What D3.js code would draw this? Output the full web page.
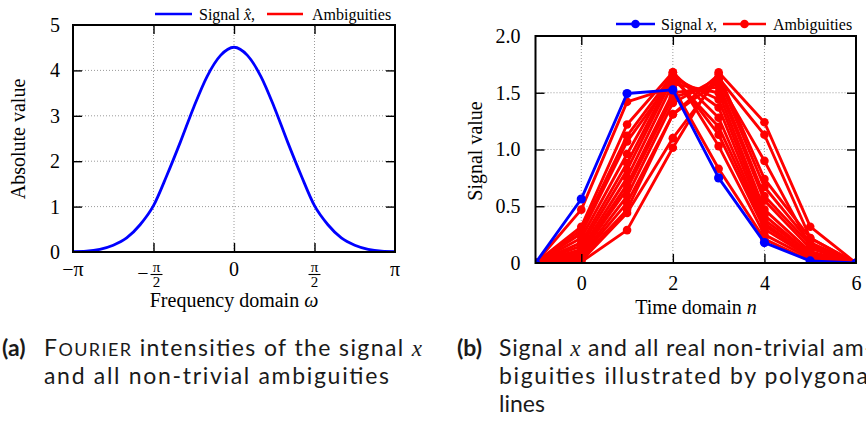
<!DOCTYPE html>
<html>
<head>
<meta charset="utf-8">
<script src="https://cdn.jsdelivr.net/npm/d3@7/dist/d3.min.js"></script>
<style>
html,body{margin:0;padding:0;background:#fff;}
svg{display:block;}
</style>
</head>
<body>
<svg id="chart" width="866" height="421"></svg>
<script>
// ---------------- data ----------------
// (a) Fourier intensities |x^(ω)| sampled every π/12
const freqOmega = [-3.1416, -2.8798, -2.6180, -2.3562, -2.0944, -1.8326, -1.5708, -1.3090, -1.0472, -0.7854, -0.5236, -0.2618, 0,
                   0.2618, 0.5236, 0.7854, 1.0472, 1.3090, 1.5708, 1.8326, 2.0944, 2.3562, 2.6180, 2.8798, 3.1416];
const absValues = [0.01, 0.02, 0.06, 0.15, 0.31, 0.60, 1.02, 1.69, 2.42, 3.19, 3.87, 4.33, 4.51,
                   4.33, 3.87, 3.19, 2.42, 1.69, 1.02, 0.60, 0.31, 0.15, 0.06, 0.02, 0.01];
const freqTickValues = [-Math.PI, -Math.PI / 2, 0, Math.PI / 2, Math.PI];
const freqTickLabels = ["−π", "−π/2", "0", "π/2", "π"];
const absTickValues = [0, 1, 2, 3, 4, 5];

// (b) signal and ambiguities in the time domain
const timeIndex = [-1, 0, 1, 2, 3, 4, 5, 6];
const signalX = [0, 0.564, 1.493, 1.525, 0.75, 0.18, 0.018, 0];
const ambiguities = [
  [0, 0.47, 1.42, 1.55, 0.83, 0.21, 0.02, 0],
  [0, 0.32, 1.22, 1.68, 1.03, 0.25, 0.04, 0],
  [0, 0.29, 1.12, 1.66, 1.13, 0.30, 0.05, 0],
  [0, 0.26, 1.07, 1.63, 1.20, 0.33, 0.06, 0],
  [0, 0.22, 0.96, 1.68, 1.28, 0.35, 0.06, 0],
  [0, 0.18, 0.88, 1.66, 1.37, 0.38, 0.08, 0],
  [0, 0.15, 0.82, 1.63, 1.44, 0.42, 0.08, 0],
  [0, 0.12, 0.75, 1.58, 1.50, 0.47, 0.10, 0],
  [0, 0.10, 0.69, 1.50, 1.55, 0.55, 0.13, 0],
  [0, 0.08, 0.65, 1.46, 1.58, 0.59, 0.16, 0],
  [0, 0.06, 0.59, 1.41, 1.63, 0.67, 0.18, 0],
  [0, 0.05, 0.53, 1.31, 1.66, 0.74, 0.22, 0],
  [0, 0.04, 0.47, 1.31, 1.60, 0.90, 0.15, 0],
  [0, 0.02, 0.44, 1.10, 1.63, 1.13, 0.22, 0],
  [0, 0.01, 0.29, 1.015, 1.68, 1.24, 0.32, 0]
];
const timeTickValues = [0, 2, 4, 6];
const valueTickValues = [0, 0.5, 1.0, 1.5, 2.0];
const valueTickLabels = ["0", "0.5", "1.0", "1.5", "2.0"];

// ---------------- drawing ----------------
const BLUE = "#0000ff", RED = "#ff0000";
const SERIF = "'Liberation Serif', 'DejaVu Serif', serif";
const SANS = "Lato, 'Open Sans', sans-serif";
const svg = d3.select("#chart");

function grid(g, x, y, xt, yt) {
  const [x0, x1] = x.range(), [y0, y1] = y.range();
  g.append("g").selectAll("line").data(xt).join("line")
    .attr("x1", d => x(d)).attr("x2", d => x(d)).attr("y1", y0).attr("y2", y1)
    .attr("stroke", "#9a9a9a").attr("stroke-width", 1).attr("stroke-dasharray", "1,2");
  g.append("g").selectAll("line").data(yt).join("line")
    .attr("y1", d => y(d)).attr("y2", d => y(d)).attr("x1", x0).attr("x2", x1)
    .attr("stroke", "#9a9a9a").attr("stroke-width", 1).attr("stroke-dasharray", "1,2");
}

function frame(g, x, y, xt, yt) {
  const [x0, x1] = x.range(), [y0, y1] = y.range();
  const style = s => s.call(a => a.select(".domain").remove())
    .call(a => a.selectAll(".tick line").attr("stroke", "#000").attr("stroke-width", 1.4));
  g.append("g").attr("transform", `translate(0,${y0})`)
    .call(d3.axisBottom(x).tickValues(xt).tickSizeInner(-9).tickSizeOuter(0).tickFormat("")).call(style);
  g.append("g").attr("transform", `translate(0,${y1})`)
    .call(d3.axisTop(x).tickValues(xt).tickSizeInner(-9).tickSizeOuter(0).tickFormat("")).call(style);
  g.append("g").attr("transform", `translate(${x0},0)`)
    .call(d3.axisLeft(y).tickValues(yt).tickSizeInner(-9).tickSizeOuter(0).tickFormat("")).call(style);
  g.append("g").attr("transform", `translate(${x1},0)`)
    .call(d3.axisRight(y).tickValues(yt).tickSizeInner(-9).tickSizeOuter(0).tickFormat("")).call(style);
  g.append("rect").attr("x", x0).attr("y", y1).attr("width", x1 - x0).attr("height", y0 - y1)
    .attr("fill", "none").attr("stroke", "#000").attr("stroke-width", 2);
}

// ======== Panel (a) ========
const xL = d3.scaleLinear().domain([-Math.PI, Math.PI]).range([73, 395]);
const yL = d3.scaleLinear().domain([0, 5]).range([252, 25]);
const gA = svg.append("g");
grid(gA, xL, yL, freqTickValues.slice(1, -1), absTickValues.slice(1, -1));

svg.append("clipPath").attr("id", "clipA").append("rect")
  .attr("x", 73).attr("y", 25).attr("width", 322).attr("height", 227);
gA.append("path")
  .datum(freqOmega.map((w, i) => [w, absValues[i]]))
  .attr("clip-path", "url(#clipA)")
  .attr("fill", "none").attr("stroke", BLUE).attr("stroke-width", 2.8)
  .attr("d", d3.line().x(d => xL(d[0])).y(d => yL(d[1])).curve(d3.curveMonotoneX));

frame(gA, xL, yL, freqTickValues.slice(1, -1), absTickValues.slice(1, -1));

// y tick labels
gA.append("g").attr("transform", `translate(${xL.range()[0]},0)`)
  .call(d3.axisLeft(yL).tickValues(absTickValues).tickSize(0).tickPadding(13).tickFormat(d3.format("d")))
  .call(a => a.select(".domain").remove())
  .call(a => a.selectAll("text").attr("font-family", SERIF).attr("font-size", 20).attr("fill", "#000"));

// x tick labels (with fractions)
const xlab = gA.append("g").attr("font-family", SERIF).attr("fill", "#000");
freqTickValues.forEach((v, i) => {
  const lab = freqTickLabels[i];
  const cx = xL(v);
  if (lab.includes("/")) {
    const neg = lab.startsWith("−");
    const [num, den] = lab.replace("−", "").split("/");
    const fx = cx + (neg ? 3 : 0);
    if (neg) xlab.append("text").attr("x", fx - 8).attr("y", 280).attr("text-anchor", "end")
      .attr("font-size", 20).text("−");
    xlab.append("text").attr("x", fx).attr("y", 271.5).attr("text-anchor", "middle").attr("font-size", 15).text(num);
    xlab.append("line").attr("x1", fx - 6).attr("x2", fx + 6).attr("y1", 274.5).attr("y2", 274.5)
      .attr("stroke", "#000").attr("stroke-width", 1.1);
    xlab.append("text").attr("x", fx).attr("y", 287).attr("text-anchor", "middle").attr("font-size", 15).text(den);
  } else {
    xlab.append("text").attr("x", cx).attr("y", 276).attr("text-anchor", "middle").attr("font-size", 20).text(lab);
  }
});

// axis titles
gA.append("text").attr("x", 234).attr("y", 307).attr("text-anchor", "middle")
  .attr("font-family", SERIF).attr("font-size", 20)
  .call(t => { t.append("tspan").text("Frequency domain "); t.append("tspan").attr("font-style", "italic").text("ω"); });
gA.append("text").attr("transform", "translate(25,139) rotate(-90)").attr("text-anchor", "middle")
  .attr("font-family", SERIF).attr("font-size", 20).text("Absolute value");

// legend (a)
const legA = gA.append("g").attr("font-family", SERIF).attr("font-size", 16);
legA.append("line").attr("x1", 155).attr("x2", 192).attr("y1", 14).attr("y2", 14).attr("stroke", BLUE).attr("stroke-width", 2.6);
legA.append("text").attr("x", 199).attr("y", 19.5)
  .call(t => { t.append("tspan").text("Signal "); t.append("tspan").attr("font-style", "italic").text("x\u0302"); t.append("tspan").text(","); });
legA.append("line").attr("x1", 267).attr("x2", 303).attr("y1", 14).attr("y2", 14).attr("stroke", RED).attr("stroke-width", 2.6);
legA.append("text").attr("x", 312).attr("y", 19.5).text("Ambiguities");

// ======== Panel (b) ========
const xR = d3.scaleLinear().domain([-1, 6]).range([535.5, 856]);
const yR = d3.scaleLinear().domain([0, 2]).range([263, 36]);
const gB = svg.append("g");
grid(gB, xR, yR, [0, 2, 4], [0.5, 1.0, 1.5]);

svg.append("clipPath").attr("id", "clipB").append("rect")
  .attr("x", 535.5).attr("y", 36).attr("width", 320.5).attr("height", 227);
const lineB = d3.line().x((d, i) => xR(timeIndex[i])).y(d => yR(d));
const dataB = gB.append("g").attr("clip-path", "url(#clipB)");

ambiguities.forEach(a => {
  dataB.append("path").datum(a).attr("fill", "none").attr("stroke", RED)
    .attr("stroke-width", 2.9).attr("stroke-linejoin", "round").attr("d", lineB);
});
ambiguities.forEach(a => {
  dataB.append("g").selectAll("circle").data(a).join("circle")
    .attr("cx", (d, i) => xR(timeIndex[i])).attr("cy", d => yR(d)).attr("r", 4.3).attr("fill", RED);
});
dataB.append("path").datum(signalX).attr("fill", "none").attr("stroke", BLUE)
  .attr("stroke-width", 2.9).attr("stroke-linejoin", "round").attr("d", lineB);
dataB.append("g").selectAll("circle").data(signalX).join("circle")
  .attr("cx", (d, i) => xR(timeIndex[i])).attr("cy", d => yR(d)).attr("r", 4.6).attr("fill", BLUE);

frame(gB, xR, yR, [0, 2, 4], [0.5, 1.0, 1.5]);

gB.append("g").attr("transform", `translate(${xR.range()[0]},0)`)
  .call(d3.axisLeft(yR).tickValues(valueTickValues).tickSize(0).tickPadding(15)
    .tickFormat((d, i) => valueTickLabels[i]))
  .call(a => a.select(".domain").remove())
  .call(a => a.selectAll("text").attr("font-family", SERIF).attr("font-size", 20).attr("fill", "#000"));
gB.append("g").attr("transform", `translate(0,${yR.range()[0]})`)
  .call(d3.axisBottom(xR).tickValues(timeTickValues).tickSize(0).tickPadding(13).tickFormat(d3.format("d")))
  .call(a => a.select(".domain").remove())
  .call(a => a.selectAll("text").attr("font-family", SERIF).attr("font-size", 20).attr("fill", "#000"));

gB.append("text").attr("x", 696).attr("y", 314).attr("text-anchor", "middle")
  .attr("font-family", SERIF).attr("font-size", 20)
  .call(t => { t.append("tspan").text("Time domain "); t.append("tspan").attr("font-style", "italic").text("n"); });
gB.append("text").attr("transform", "translate(482,151) rotate(-90)").attr("text-anchor", "middle")
  .attr("font-family", SERIF).attr("font-size", 20).text("Signal value");

const legB = gB.append("g").attr("font-family", SERIF).attr("font-size", 16);
legB.append("line").attr("x1", 616).attr("x2", 655).attr("y1", 24).attr("y2", 24).attr("stroke", BLUE).attr("stroke-width", 2.6);
legB.append("circle").attr("cx", 635.5).attr("cy", 24).attr("r", 4.3).attr("fill", BLUE);
legB.append("text").attr("x", 661).attr("y", 29.5)
  .call(t => { t.append("tspan").text("Signal "); t.append("tspan").attr("font-style", "italic").text("x"); t.append("tspan").text(","); });
legB.append("line").attr("x1", 723).attr("x2", 766).attr("y1", 24).attr("y2", 24).attr("stroke", RED).attr("stroke-width", 2.6);
legB.append("circle").attr("cx", 744.5).attr("cy", 24).attr("r", 4.3).attr("fill", RED);
legB.append("text").attr("x", 773).attr("y", 29.5).text("Ambiguities");

// ======== Captions ========
const cap = svg.append("g").attr("font-family", SANS).attr("font-size", 23).attr("fill", "#1a1a1a");
cap.append("text").attr("x", 2).attr("y", 356).attr("font-weight", "bold").text("(a)");
cap.append("text").attr("x", 44).attr("y", 356).attr("textLength", 378).attr("lengthAdjust", "spacing")
  .call(t => {
    t.append("tspan").text("F");
    t.append("tspan").attr("font-size", 18).text("OURIER");
    t.append("tspan").text(" intensities of the signal ");
    t.append("tspan").attr("font-family", SERIF).attr("font-style", "italic").text("x");
  });
cap.append("text").attr("x", 44).attr("y", 384).attr("textLength", 345).attr("lengthAdjust", "spacing")
  .text("and all non-trivial ambiguities");

cap.append("text").attr("x", 457).attr("y", 356).attr("font-weight", "bold").text("(b)");
cap.append("text").attr("x", 499).attr("y", 356).attr("textLength", 374).attr("lengthAdjust", "spacing")
  .call(t => {
    t.append("tspan").text("Signal ");
    t.append("tspan").attr("font-family", SERIF).attr("font-style", "italic").text("x");
    t.append("tspan").text(" and all real non-trivial am-");
  });
cap.append("text").attr("x", 499).attr("y", 384).attr("textLength", 376).attr("lengthAdjust", "spacing")
  .text("biguities illustrated by polygonal");
cap.append("text").attr("x", 499).attr("y", 412).text("lines");
</script>
</body>
</html>
